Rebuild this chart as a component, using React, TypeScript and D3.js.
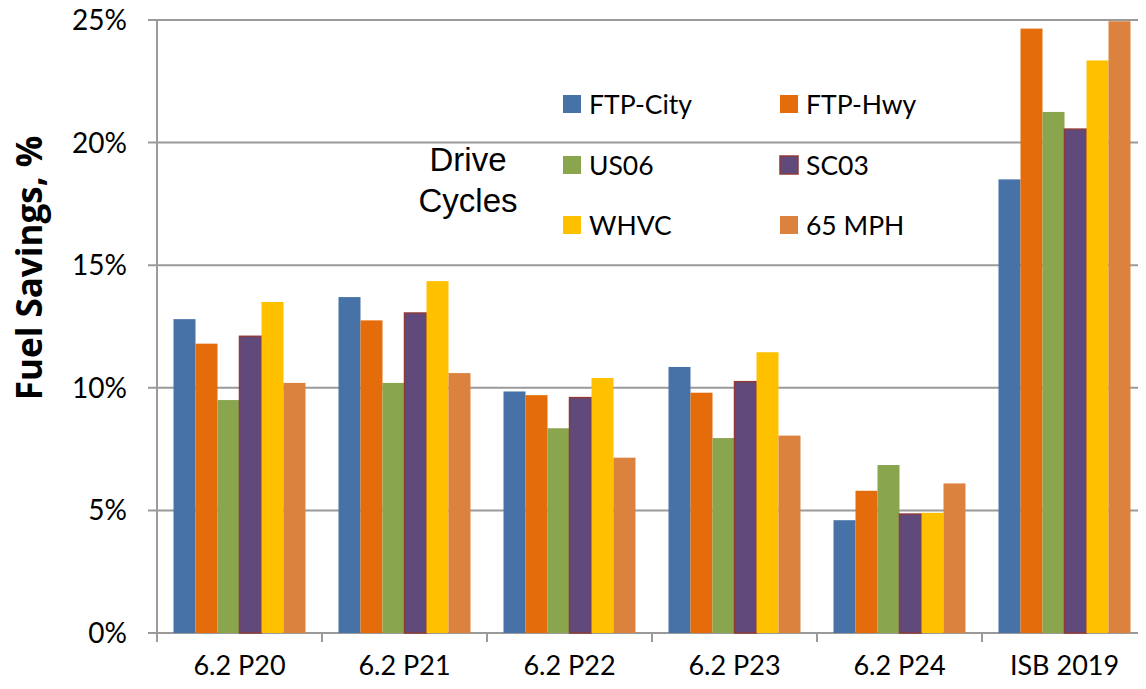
import React from 'react';
import * as d3 from 'd3';

const categories = ["6.2 P20", "6.2 P21", "6.2 P22", "6.2 P23", "6.2 P24", "ISB 2019"];
const seriesNames = ["FTP-City", "FTP-Hwy", "US06", "SC03", "WHVC", "65 MPH"];
const colors = ["#4672A7", "#E46C0A", "#89A54E", "#604A7B", "#FFC000", "#DC823F"];

const ftpCity = [12.8, 13.7, 9.85, 10.85, 4.6, 18.5];
const ftpHwy = [11.8, 12.75, 9.7, 9.8, 5.8, 24.65];
const us06 = [9.5, 10.2, 8.35, 7.95, 6.85, 21.25];
const sc03 = [12.1, 13.05, 9.6, 10.25, 4.85, 20.55];
const whvc = [13.5, 14.35, 10.4, 11.45, 4.9, 23.35];
const mph65 = [10.2, 10.6, 7.15, 8.05, 6.1, 24.95];
const series = [ftpCity, ftpHwy, us06, sc03, whvc, mph65];

const yTicks = [0, 5, 10, 15, 20, 25];

const W = 1146;
const H = 689;
const margin = { top: 20, right: 0, bottom: 56, left: 157 };
const font = "Lato, 'Open Sans', sans-serif";

export default function App() {
  const x = d3.scaleBand<string>()
    .domain(categories)
    .range([margin.left, margin.left + 165 * 6])
    .paddingInner(0)
    .paddingOuter(0);
  // bars fill the middle 80% of each band
  const xInner = d3.scaleBand<number>()
    .domain(d3.range(seriesNames.length))
    .range([x.bandwidth() * 0.1, x.bandwidth() * 0.9]);
  const y = d3.scaleLinear().domain([0, 25]).range([H - margin.bottom, margin.top]);

  const grid = "#9a9a9a";
  const bandEdges = categories.map(c => x(c) as number).concat([(x(categories[5]) as number) + x.bandwidth()]);

  const legendPos = [
    [563, 104], [780, 104],
    [563, 165], [780, 165],
    [563, 225], [780, 225],
  ];

  return (
    <div style={{ margin: -8 }}>
      <svg width={W} height={H} style={{ display: 'block', background: '#fff' }}>
        {yTicks.map(t => (
          <g key={t}>
            <line x1={148} x2={W} y1={y(t)} y2={y(t)} stroke={grid} strokeWidth={2} />
            <text x={127} y={y(t)} dy="0.36em" textAnchor="end" fontSize={28} fontFamily={font} fill="#000">{t}%</text>
          </g>
        ))}
        <line x1={margin.left} x2={margin.left} y1={y(25)} y2={y(0)} stroke={grid} strokeWidth={2} />
        {bandEdges.map((e, i) => (
          <line key={i} x1={e} x2={e} y1={y(0)} y2={y(0) + 9} stroke={grid} strokeWidth={2} />
        ))}
        {categories.map((c, ci) => (
          <g key={c} transform={`translate(${x(c)},0)`}>
            {series.map((s, si) => (
              <rect
                key={si}
                x={xInner(si)}
                y={y(s[ci])}
                width={xInner.bandwidth()}
                height={y(0) - y(s[ci])}
                fill={colors[si]}
                stroke={si === 3 ? "#8E3A3A" : "none"}
                strokeWidth={si === 3 ? 1.5 : 0}
              />
            ))}
            <text x={x.bandwidth() / 2} y={665} dy="0.36em" textAnchor="middle" fontSize={27} fontFamily={font} fill="#000">{c}</text>
          </g>
        ))}
        {seriesNames.map((n, i) => (
          <g key={n} transform={`translate(${legendPos[i][0]},${legendPos[i][1]})`}>
            <rect x={0} y={-9} width={18} height={18} fill={colors[i]} stroke={i === 3 ? "#8E3A3A" : "none"} strokeWidth={1.5} />
            <text x={26} y={0} dy="0.36em" fontSize={26.5} fontFamily={font} fill="#000">{n}</text>
          </g>
        ))}
        <text x={468} y={171} textAnchor="middle" fontSize={33} fontFamily="'Liberation Sans', Arial, sans-serif" fill="#000">Drive</text>
        <text x={468} y={212} textAnchor="middle" fontSize={33} fontFamily="'Liberation Sans', Arial, sans-serif" fill="#000">Cycles</text>
        <text transform={`translate(29,268) rotate(-90)`} dy="0.36em" textAnchor="middle" fontSize={35} fontWeight="bold" fontFamily="'Open Sans', sans-serif" fill="#000">Fuel Savings, %</text>
      </svg>
    </div>
  );
}
